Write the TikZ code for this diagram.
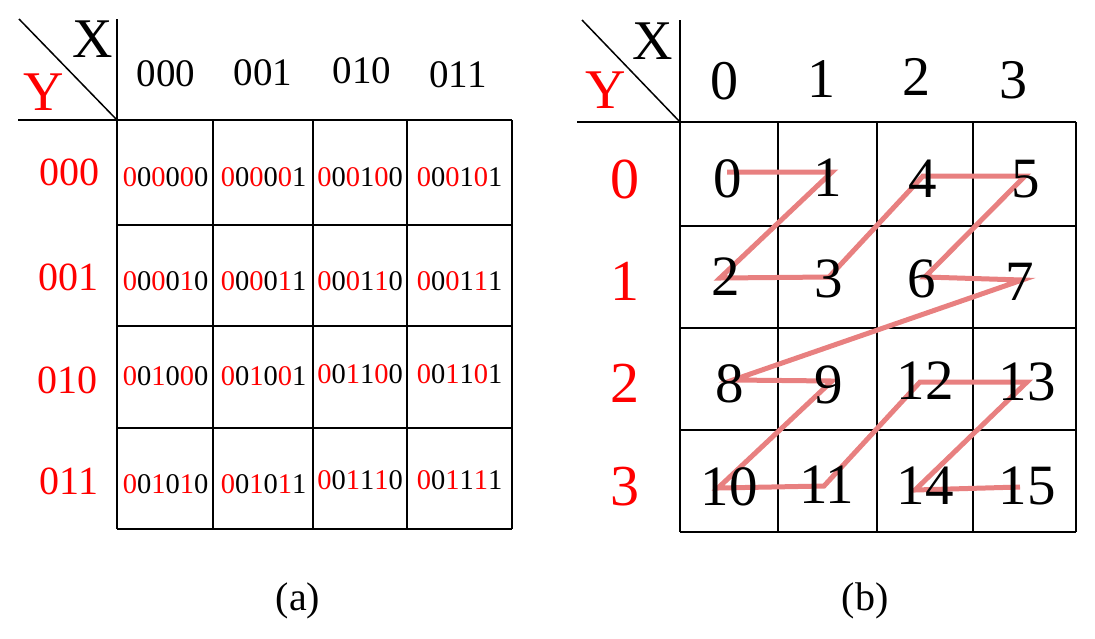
\documentclass[tikz,border=0pt]{standalone}
\usepackage{fontspec}
\setmainfont{Liberation Serif}
\definecolor{zred}{RGB}{255,0,0}
\definecolor{zpath}{RGB}{232,128,128}
\newcommand{\zint}[6]{\textcolor{zred}{#1}#2\textcolor{zred}{#3}#4\textcolor{zred}{#5}#6}
\tikzset{
  gridline/.style={line width=1.5pt, black},
  txt/.style={anchor=base, inner sep=0pt, outer sep=0pt},
  celltxt/.style={txt, font=\fontsize{28.5}{30}\selectfont},
  hdrA/.style={txt, font=\fontsize{39}{40}\selectfont},
  rowA/.style={txt, text=zred, font=\fontsize{40}{42}\selectfont},
  axis/.style={txt, font=\fontsize{56}{58}\selectfont},
  numB/.style={txt, font=\fontsize{57}{58}\selectfont},
  hdrB/.style={txt, font=\fontsize{56}{58}\selectfont},
  rowB/.style={txt, text=zred, font=\fontsize{58}{60}\selectfont},
  caption/.style={txt, font=\fontsize{40}{42}\selectfont},
  zpathline/.style={line width=5pt, zpath, line join=miter},
}
\begin{document}
\begin{tikzpicture}[x=1pt,y=-1pt]
\useasboundingbox (0,0) rectangle (1095,638);
% ---------------- (a) ----------------
\draw[gridline] (19,19) -- (117,120);
\draw[gridline] (117,19) -- (117,529);
\draw[gridline] (18,120) -- (512,120);
\foreach \x in {213,313,407,512} \draw[gridline] (\x,120) -- (\x,529);
\foreach \y in {225,326,428,529} \draw[gridline] (117,\y) -- (512,\y);
\node[axis] (aX) at (93,57) {X};
\node[axis, text=zred] (aY) at (44,110) {Y};
\node[hdrA] (ah0) at (166,86) {000};
\node[hdrA] (ah1) at (263,85) {001};
\node[hdrA] (ah2) at (362,83) {010};
\node[hdrA] (ah3) at (458,87) {011};
\node[rowA] (ar0) at (69,185) {000};
\node[rowA] (ar1) at (68,290) {001};
\node[rowA] (ar2) at (67,393) {010};
\node[rowA] (ar3) at (69,494) {011};
% row 0
\node[celltxt] (a00) at (165.5,186) {\zint000000};
\node[celltxt] (a01) at (263.5,186) {\zint000001};
\node[celltxt] (a02) at (360,186) {\zint000100};
\node[celltxt] (a03) at (459.5,186) {\zint000101};
% row 1
\node[celltxt] (a10) at (165.5,290) {\zint000010};
\node[celltxt] (a11) at (263.5,290) {\zint000011};
\node[celltxt] (a12) at (360,290) {\zint000110};
\node[celltxt] (a13) at (459.5,290) {\zint000111};
% row 2
\node[celltxt] (a20) at (165.5,385) {\zint001000};
\node[celltxt] (a21) at (263.5,385) {\zint001001};
\node[celltxt] (a22) at (360,383) {\zint001100};
\node[celltxt] (a23) at (459.5,383) {\zint001101};
% row 3
\node[celltxt] (a30) at (165.5,493) {\zint001010};
\node[celltxt] (a31) at (263.5,493) {\zint001011};
\node[celltxt] (a32) at (360,489) {\zint001110};
\node[celltxt] (a33) at (459.5,489) {\zint001111};
\node[caption] (capa) at (298,610) {(a)};
% ---------------- (b) ----------------
\draw[gridline] (582,20) -- (680,122);
\draw[gridline] (680,20) -- (680,532);
\draw[gridline] (577,122) -- (1076,122);
\foreach \x in {778,877,973,1076} \draw[gridline] (\x,122) -- (\x,532);
\foreach \y in {226,328,430,532} \draw[gridline] (680,\y) -- (1076,\y);
\node[axis] (bX) at (653,59) {X};
\node[axis, text=zred] (bY) at (606,108) {Y};
\node[hdrB] (bh0) at (724,99) {0};
\node[hdrB] (bh1) at (821,97) {1};
\node[hdrB] (bh2) at (916,95) {2};
\node[hdrB] (bh3) at (1013,98) {3};
\node[rowB] (br0) at (625,198) {0};
\node[rowB] (br1) at (625,300) {1};
\node[rowB] (br2) at (625,402) {2};
\node[rowB] (br3) at (625,505) {3};
% path coordinates
\coordinate (p0) at (727,172);
\coordinate (p1) at (832,172);
\coordinate (p2) at (720,278);
\coordinate (p3) at (829,277);
\coordinate (p4) at (923,176);
\coordinate (p5) at (1025,176);
\coordinate (p6) at (925,277);
\coordinate (p7) at (1022,280);
\coordinate (p8) at (733,380);
\coordinate (p9) at (832,381);
\coordinate (p10) at (718,488);
\coordinate (p11) at (824,486);
\coordinate (p12) at (920,382);
\coordinate (p13) at (1027,382);
\coordinate (p14) at (915,490);
\coordinate (p15) at (1020,487);
\draw[zpathline] (p0) -- (p1) -- (p2) -- (p3) -- (p4) -- (p5) -- (p6) -- (p7)
  -- (p8) -- (p9) -- (p10) -- (p11) -- (p12) -- (p13) -- (p14) -- (p15);
\node[numB] (b0) at (728,197) {0};
\node[numB] (b1) at (828,196) {1};
\node[numB] (b4) at (923,197) {4};
\node[numB] (b5) at (1026,197) {5};
\node[numB] (b2) at (726,295) {2};
\node[numB] (b3) at (829,297) {3};
\node[numB] (b6) at (922,297) {6};
\node[numB] (b7) at (1020,300) {7};
\node[numB] (b8) at (730,402) {8};
\node[numB] (b9) at (829,403) {9};
\node[numB] (b12) at (925,399) {12};
\node[numB] (b13) at (1027,400) {13};
\node[numB] (b10) at (729,505) {10};
\node[numB] (b11) at (827,503) {11};
\node[numB] (b14) at (925,504) {14};
\node[numB] (b15) at (1027,504) {15};
\node[caption] (capb) at (865,610) {(b)};
\end{tikzpicture}
\end{document}
